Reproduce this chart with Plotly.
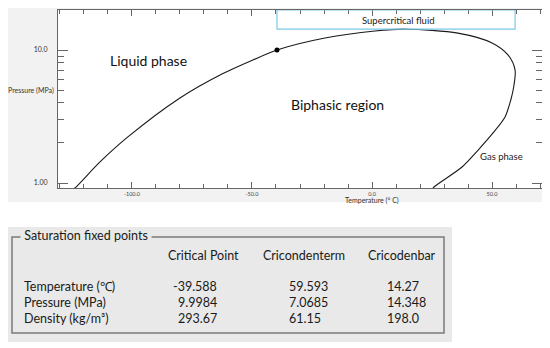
import plotly.graph_objects as go
import math

# ---------------- data ----------------
# Phase envelope (temperature in °C, pressure in MPa)
env_T = [-124.5, -123.75, -113.3, -101.7, -80.0, -63.3, -49.6, -39.588, -19.6, 1.25, 14.27,
         35.8, 50.0, 56.7, 59.593, 59.0, 57.8, 55.4, 50.4, 44.2, 37.5, 25.8, 25.0]
env_P = [0.90, 0.917, 1.44, 2.22, 4.36, 6.49, 8.41, 9.9984, 12.3, 13.9, 14.348,
         13.4, 11.3, 9.15, 7.0685, 5.27, 4.21, 3.14, 2.38, 1.77, 1.32, 0.933, 0.89]

# Saturation fixed points table
point_names = ["Critical Point", "Cricondenterm", "Cricodenbar"]
row_labels = ["Temperature (\u2103)", "Pressure (MPa)", "Density (kg/m\u00b3)"]
temps = [-39.588, 59.593, 14.27]
pressures = [9.9984, 7.0685, 14.348]
densities = [293.67, 61.15, 198.0]
temp_txt = ["-39.588", "59.593", "14.27"]
pres_txt = ["9.9984", "7.0685", "14.348"]
dens_txt = ["293.67", "61.15", "198.0"]

x_tickvals = [-100, -50, 0, 50]
x_ticktext = ["-100.0", "-50.0", "0.0", "50.0"]
y_tickvals = [1, 10]
y_ticktext = ["1.00", "10.0"]

# ---------------- geometry helpers ----------------
# the page body has an 8px margin, so the figure starts at (8, 8) in the window
OFF = 8
W, H = 550 - OFF, 348 - OFF
def fx(px):
    return (px - OFF) / W
def fy(py):
    return 1 - (py - OFF) / H

X0, X1, Y0, Y1 = 58, 542, 10, 188   # plot area in window pixels
x_range = [-130.8, 70.8]
y_range = [math.log10(0.917), math.log10(20.0)]

fig = go.Figure()

fig.add_trace(go.Scatter(
    x=env_T, y=env_P, mode="lines",
    line=dict(color="#1a1a1a", width=1.1, shape="spline", smoothing=0.8),
    hoverinfo="skip", showlegend=False))
fig.add_trace(go.Scatter(
    x=[temps[0]], y=[pressures[0]], mode="markers",
    marker=dict(color="black", size=5), showlegend=False))

shapes = []
# light grey background behind chart area
shapes.append(dict(type="rect", xref="paper", yref="paper", layer="below",
                   x0=fx(5), x1=fx(547), y0=fy(202), y1=fy(3),
                   fillcolor="#f2f2f2", line=dict(width=0)))
# white plot area
shapes.append(dict(type="rect", xref="paper", yref="paper", layer="below",
                   x0=fx(X0), x1=fx(X1), y0=fy(Y1), y1=fy(Y0),
                   fillcolor="white", line=dict(width=0)))
# supercritical box
shapes.append(dict(type="rect", xref="x", yref="y",
                   x0=temps[0], x1=temps[1], y0=pressures[2], y1=20.0,
                   fillcolor="rgba(0,0,0,0)", line=dict(color="#7cc8e8", width=1.2)))
# table panel
shapes.append(dict(type="rect", xref="paper", yref="paper", layer="below",
                   x0=fx(5), x1=fx(452), y0=fy(342), y1=fy(227),
                   fillcolor="#e9e9e9", line=dict(width=0)))
shapes.append(dict(type="rect", xref="paper", yref="paper", layer="below",
                   x0=fx(12), x1=fx(444), y0=fy(333), y1=fy(237),
                   fillcolor="rgba(0,0,0,0)", line=dict(color="#7a7a7a", width=1.5)))

ann = []
def add_text(text, x, y, size, xanchor="center", color="#111111", family="Lato", bg=None):
    d = dict(text=text, x=fx(x), y=fy(y), xref="paper", yref="paper",
             xanchor=xanchor, yanchor="middle", showarrow=False,
             font=dict(family=family, size=size, color=color))
    if bg:
        d["bgcolor"] = bg
        d["borderpad"] = 0
    ann.append(d)

add_text("Liquid phase", 148, 60, 14)
add_text("Biphasic region", 337, 104, 14)
add_text("Gas phase", 501, 156, 9.5, color="#222222")
add_text("Supercritical fluid", 398, 21, 9.5, color="#222222")
add_text("Pressure (MPa)", 31, 90, 7, color="#333333")
add_text("Temperature (\u00b0 C)", 372, 200, 7, color="#333333")

# table
TS = 12.5
TC = "#1a1a1a"
add_text(" Saturation fixed points ", 20, 236, TS, xanchor="left", color=TC, bg="#e9e9e9")
header_x = [203, 304, 402]
for name, hx in zip(point_names, header_x):
    add_text(name, hx, 255, TS, color=TC)
row_y = [286, 302.5, 318.5]
for lab, ry in zip(row_labels, row_y):
    add_text(lab, 22, ry, TS, xanchor="left", color=TC)
cols = [temp_txt, pres_txt, dens_txt]
for vals, ry in zip(cols, row_y):
    add_text(vals[0], 219, ry, TS, xanchor="right", color=TC)
    add_text(vals[1], 287, ry, TS, xanchor="left", color=TC)
    add_text(vals[2], 385, ry, TS, xanchor="left", color=TC)

axis_col = "#666666"
fig.update_layout(
    width=W, height=H,
    margin=dict(l=0, r=0, t=0, b=0),
    paper_bgcolor="white",
    plot_bgcolor="rgba(0,0,0,0)",
    showlegend=False,
    shapes=shapes,
    annotations=ann,
    xaxis=dict(domain=[fx(X0), fx(X1)], range=x_range, showgrid=False, zeroline=False,
               showline=True, linecolor=axis_col, linewidth=1, mirror="allticks",
               ticks="inside", ticklen=6, tickcolor=axis_col,
               tickvals=x_tickvals, ticktext=x_ticktext,
               tickfont=dict(family="Lato", size=5.5, color="#444444"),
               minor=dict(dtick=10, tick0=0, ticks="inside", ticklen=4, tickcolor=axis_col),
               automargin=False, fixedrange=True),
    yaxis=dict(domain=[fy(Y1), fy(Y0)], type="log", range=y_range, showgrid=False, zeroline=False,
               showline=True, linecolor=axis_col, linewidth=1, mirror="allticks",
               ticks="inside", ticklen=10, tickcolor=axis_col,
               tickvals=y_tickvals, ticktext=y_ticktext,
               tickfont=dict(family="Lato", size=7, color="#333333"),
               ticklabelstandoff=8,
               minor=dict(tickvals=[2, 3, 4, 5, 6, 7, 8, 9, 20], ticks="inside", ticklen=6, tickcolor=axis_col),
               automargin=False, fixedrange=True),
)

fig.write_html("out.html")
